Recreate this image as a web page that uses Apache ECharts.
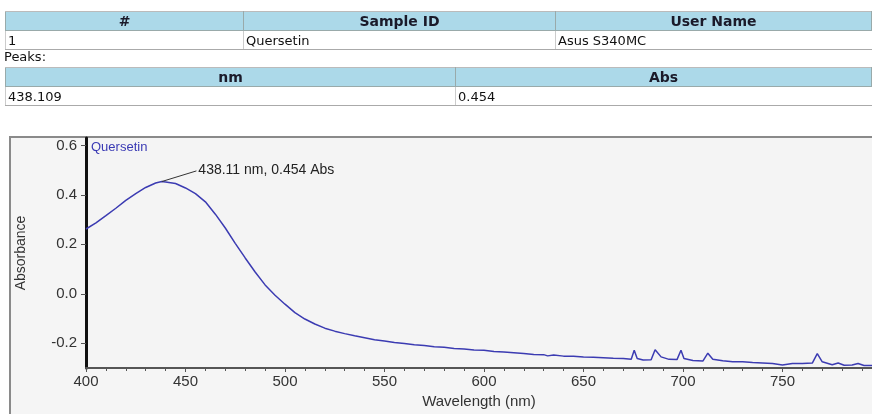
<!DOCTYPE html>
<html>
<head>
<meta charset="utf-8">
<script src="https://cdn.jsdelivr.net/npm/echarts@6/dist/echarts.min.js"></script>
<style>
    body { margin: 0; background: #fff; }
    #main { position: absolute; left: 0; top: 0; width: 872px; height: 414px; }
    table { position: absolute; left: 5px; width: 867px; border-collapse: collapse; table-layout: fixed;
            font-family: "DejaVu Sans", sans-serif; font-size: 13px; color: #111; }
    th { background: #acd9e9; height: 18px; padding: 0; font-weight: bold; font-size: 14px; color: #1a1a2a; border: 1px solid #9aa; border-top: 1px solid #bbb; }
    td { height: 18px; padding: 0 2px; border-left: 1px solid #ccc; border-bottom: 1px solid #aaa; background: #fff; }
    #peaks { position: absolute; left: 4px; top: 49px; font-family: "DejaVu Sans", sans-serif; font-size: 13px; color: #111; }
</style>
</head>
<body>
<div id="main"></div>
<table id="t1" style="top:11px">
    <colgroup><col style="width:238px"><col style="width:312px"><col></colgroup>
    <tr><th>#</th><th>Sample ID</th><th>User Name</th></tr>
    <tr><td>1</td><td>Quersetin</td><td>Asus S340MC</td></tr>
</table>
<div id="peaks">Peaks:</div>
<table id="t2" style="top:67px">
    <colgroup><col style="width:450px"><col></colgroup>
    <tr><th>nm</th><th>Abs</th></tr>
    <tr><td>438.109</td><td>0.454</td></tr>
</table>
<script>
// 样品名 / 峰值
var sampleName = 'Quersetin';
var peakNm = 438.109;
var peakAbs = 0.454;

// 波长 (nm)
var wavelength = [
    400, 405, 410, 415, 420, 425, 430, 435, 438.109, 440, 445, 450, 455, 460, 465, 470, 475, 480, 485, 490,
    495, 500, 505, 510, 515, 520, 525, 530, 535, 540, 545, 550, 555, 560, 565, 570, 575, 580, 585, 590,
    595, 600, 605, 610, 615, 620, 625, 630, 632, 635, 640, 645, 650, 655, 660, 665, 670, 674, 675.5, 677,
    680, 684, 686, 689, 693, 697, 699, 700.5, 705, 710, 712.5, 715, 720, 725, 730, 735, 740, 745, 750, 755,
    760, 765, 767.5, 770, 775, 778, 781, 785, 788, 791, 795
];
// 吸光度 (Abs)
var absorbance = [
    0.262, 0.287, 0.316, 0.346, 0.378, 0.405, 0.430, 0.448, 0.454, 0.452, 0.446, 0.428, 0.405, 0.372, 0.322, 0.266, 0.204, 0.145, 0.088, 0.036,
    -0.006, -0.042, -0.076, -0.102, -0.122, -0.139, -0.151, -0.161, -0.170, -0.178, -0.186, -0.191, -0.197, -0.201, -0.206, -0.209, -0.214, -0.216, -0.221, -0.223,
    -0.227, -0.228, -0.233, -0.235, -0.238, -0.241, -0.245, -0.246, -0.251, -0.247, -0.252, -0.252, -0.256, -0.257, -0.259, -0.261, -0.262, -0.265, -0.228, -0.262,
    -0.268, -0.267, -0.226, -0.255, -0.265, -0.266, -0.228, -0.262, -0.270, -0.272, -0.240, -0.265, -0.271, -0.275, -0.275, -0.278, -0.280, -0.282, -0.288, -0.282,
    -0.282, -0.280, -0.242, -0.275, -0.287, -0.280, -0.289, -0.288, -0.282, -0.290, -0.290
];
var yTicks = [-0.2, 0.0, 0.2, 0.4, 0.6];

var dataList = [];
for (let i = 0; i < wavelength.length; i++) {
    dataList.push([wavelength[i], absorbance[i]]);
}

var myChart = echarts.init(document.getElementById('main'));
var option = {
    animation: false,
    backgroundColor: '#fff',
    graphic: [{
        type: 'rect',
        z: -10,
        shape: { x: 10, y: 137, width: 880, height: 300 },
        style: { fill: '#f5f5f5', stroke: '#8a8a8a', lineWidth: 2 }
    }],
    legend: {
        data: [sampleName],
        left: 80,
        top: 136,
        itemWidth: 0,
        itemHeight: 0,
        textStyle: { color: '#3a3ab4', fontSize: 13, fontFamily: 'Liberation Sans' }
    },
    grid: {
        left: 86, right: 0, top: 138, bottom: 42,
        show: true, backgroundColor: '#f4f4f4', borderWidth: 0
    },
    xAxis: {
        type: 'value',
        min: 400, max: 795, interval: 50,
        name: 'Wavelength (nm)',
        nameLocation: 'middle',
        nameGap: 26,
        nameTextStyle: { color: '#333', fontSize: 15, fontFamily: 'Liberation Sans' },
        axisLine: { onZero: false, lineStyle: { color: '#555', width: 2 } },
        axisTick: { length: 4, lineStyle: { color: '#555' } },
        minorTick: { show: true, splitNumber: 5, length: 3, lineStyle: { color: '#555' } },
        axisLabel: { color: '#333', fontSize: 15, fontFamily: 'Liberation Sans', margin: 6, showMaxLabel: false },
        splitLine: { show: false }
    },
    yAxis: {
        type: 'value',
        min: -0.3, max: 0.63,
        name: 'Absorbance',
        nameLocation: 'middle',
        nameGap: 58,
        nameTextStyle: { color: '#333', fontSize: 14, fontFamily: 'Liberation Sans' },
        axisLine: { onZero: false, lineStyle: { color: '#111', width: 3 } },
        axisTick: { show: true, length: 5, customValues: yTicks, lineStyle: { color: '#555' } },
        axisLabel: {
            color: '#333', fontSize: 15, fontFamily: 'Liberation Sans', margin: 9,
            customValues: yTicks,
            formatter: function (v) { return v.toFixed(1); }
        },
        splitLine: { show: false }
    },
    series: [{
        name: sampleName,
        type: 'line',
        data: dataList,
        showSymbol: false,
        symbol: 'none',
        lineStyle: { color: '#3b3bb2', width: 1.5 },
        itemStyle: { color: '#3b3bb2' },
        markLine: {
            silent: true,
            symbol: ['none', 'none'],
            lineStyle: { color: '#333', width: 1, type: 'solid' },
            label: {
                show: true,
                position: 'end',
                distance: 2,
                formatter: peakNm.toFixed(2) + ' nm, ' + peakAbs + ' Abs',
                color: '#222', fontSize: 14, fontFamily: 'Liberation Sans'
            },
            data: [[{ coord: [peakNm, peakAbs] }, { coord: [455.5, 0.497] }]]
        }
    }]
};
myChart.setOption(option);
</script>
</body>
</html>
